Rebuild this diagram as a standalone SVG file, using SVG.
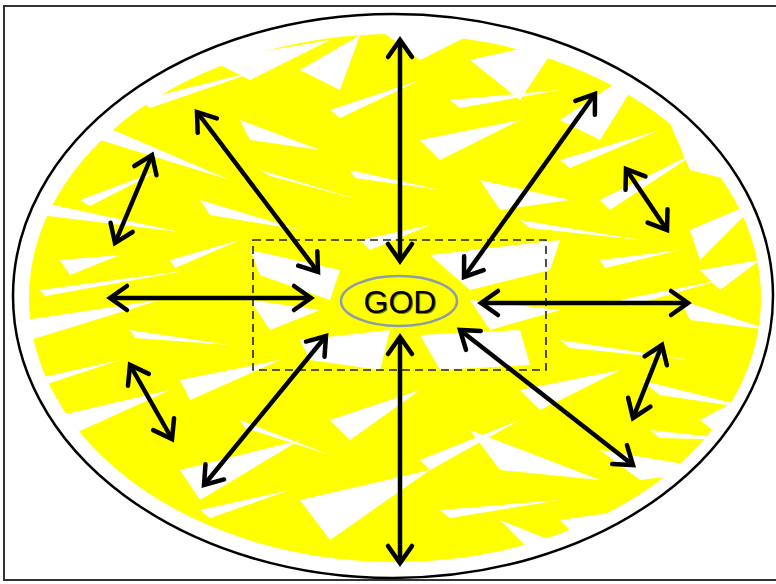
<svg xmlns="http://www.w3.org/2000/svg" width="776" height="584" viewBox="0 0 776 584">
<style>
.arr{stroke:#000;stroke-width:4.5;fill:none;marker-start:url(#ah);marker-end:url(#ah)}
.w{fill:#fff}
.gtxt{font-family:"Liberation Sans",Arial,sans-serif;font-size:32px;fill:#000;text-anchor:middle}
</style>
<defs>
<marker id="ah" markerUnits="userSpaceOnUse" orient="auto-start-reverse" refX="0" refY="0" markerWidth="40" markerHeight="40" viewBox="-30 -20 40 40" overflow="visible">
<path d="M-17,-12 L0,0 L-17,12" fill="none" stroke="#000" stroke-width="4.5" stroke-linecap="round" stroke-linejoin="miter"/>
</marker>
<clipPath id="ec"><ellipse cx="393" cy="296" rx="378" ry="281"/></clipPath>
</defs>
<rect x="0" y="0" width="776" height="584" fill="#fff"/>
<rect id="frame" x="4" y="6" width="790" height="574" fill="none" stroke="#333" stroke-width="2"/>
<g id="sun" clip-path="url(#ec)">
<ellipse cx="395" cy="298" rx="366" ry="264" fill="#ffff00"/>
<g class="w">
<polygon points="30,200 180,232 40,215"/>
<polygon points="25,320 160,300 30,340"/>
<polygon points="40,420 170,390 60,440"/>
<polygon points="90,120 230,180 100,140"/>
<polygon points="210,60 330,40 250,80"/>
<polygon points="300,70 360,35 340,90"/>
<polygon points="470,60 560,40 520,100"/>
<polygon points="560,120 650,60 600,140"/>
<polygon points="660,100 730,180 690,170"/>
<polygon points="690,230 760,200 700,260"/>
<polygon points="680,300 770,330 690,320"/>
<polygon points="640,380 760,410 660,395"/>
<polygon points="600,450 720,470 640,480"/>
<polygon points="470,430 600,480 500,470"/>
<polygon points="500,520 600,560 540,560"/>
<polygon points="300,500 430,470 330,540"/>
<polygon points="180,470 300,440 200,500"/>
<polygon points="100,470 220,540 120,500"/>
<polygon points="230,540 360,580 260,580"/>
<polygon points="20,480 140,530 30,560"/>
<polygon points="560,520 700,500 620,580"/>
<polygon points="700,420 776,380 776,480"/>
<polygon points="0,380 60,400 0,420"/>
<polygon points="0,150 110,90 40,200"/>
<polygon points="120,40 220,30 140,90"/>
<polygon points="380,30 500,20 420,60"/>
<polygon points="610,30 776,60 700,100"/>
<polygon points="250,250 340,270 330,300 260,275"/>
<polygon points="430,255 560,240 550,270 470,290"/>
<polygon points="300,340 390,330 380,370 310,360"/>
<polygon points="420,335 520,330 530,365 440,370"/>
<polygon points="250,300 320,310 270,330"/>
<polygon points="470,300 560,310 490,330"/>
<polygon points="200,200 300,230 210,215"/>
<polygon points="480,180 570,200 500,210"/>
<polygon points="240,120 320,150 250,140"/>
<polygon points="420,140 520,120 440,160"/>
<polygon points="180,380 280,360 190,400"/>
<polygon points="520,390 620,370 540,410"/>
<polygon points="330,420 420,390 350,440"/>
<polygon points="60,260 120,255 70,275"/>
<polygon points="700,270 760,260 720,290"/>
<polygon points="140,100 260,70 150,108"/>
<polygon points="330,110 420,80 340,118"/>
<polygon points="450,100 560,90 460,108"/>
<polygon points="600,200 700,150 610,210"/>
<polygon points="520,220 640,240 530,228"/>
<polygon points="40,290 190,270 45,296"/>
<polygon points="130,330 230,345 135,338"/>
<polygon points="560,340 690,360 570,348"/>
<polygon points="240,420 330,455 245,428"/>
<polygon points="420,460 520,420 430,470"/>
<polygon points="620,300 720,280 630,306"/>
<polygon points="80,200 160,170 90,206"/>
<polygon points="260,170 360,200 270,176"/>
<polygon points="560,160 660,130 570,168"/>
<polygon points="360,240 430,225 370,250"/>
<polygon points="200,510 290,490 210,518"/>
<polygon points="440,510 560,500 450,518"/>
<polygon points="650,430 740,440 660,438"/>
<polygon points="30,380 120,360 35,388"/>
<polygon points="350,170 440,190 355,178"/>
<polygon points="170,260 240,240 175,268"/>
<polygon points="600,260 680,250 605,268"/>
</g>
</g>
<ellipse id="outer" cx="393" cy="296" rx="380" ry="282" fill="none" stroke="#000" stroke-width="2.5"/>
<rect id="box" x="253" y="240" width="293" height="130" fill="none" stroke="#222" stroke-width="1.6" stroke-dasharray="8,5"/>
<g id="connectors">
<line class="arr" x1="400" y1="40" x2="400" y2="261"/>
<line class="arr" x1="400" y1="337" x2="400" y2="563"/>
<line class="arr" x1="110" y1="298" x2="311" y2="298"/>
<line class="arr" x1="481" y1="303" x2="688" y2="303"/>
<line class="arr" x1="197" y1="112" x2="318" y2="272"/>
<line class="arr" x1="595" y1="94" x2="464" y2="277"/>
<line class="arr" x1="326" y1="336" x2="204" y2="485"/>
<line class="arr" x1="460" y1="330" x2="633" y2="465"/>
<line class="arr" x1="152" y1="155" x2="115" y2="243"/>
<line class="arr" x1="626" y1="169" x2="667" y2="230"/>
<line class="arr" x1="130" y1="365" x2="172" y2="439"/>
<line class="arr" x1="662" y1="345" x2="633" y2="418"/>
</g>
<g id="god">
<ellipse cx="399" cy="301" rx="58" ry="25" fill="#ffff00" stroke="#8c9cab" stroke-width="2.5"/>
<text class="gtxt" x="400" y="313" fill="#555" opacity="0.5" transform="translate(1,1)">GOD</text>
<text class="gtxt" x="400" y="313">GOD</text>
</g>
</svg>
